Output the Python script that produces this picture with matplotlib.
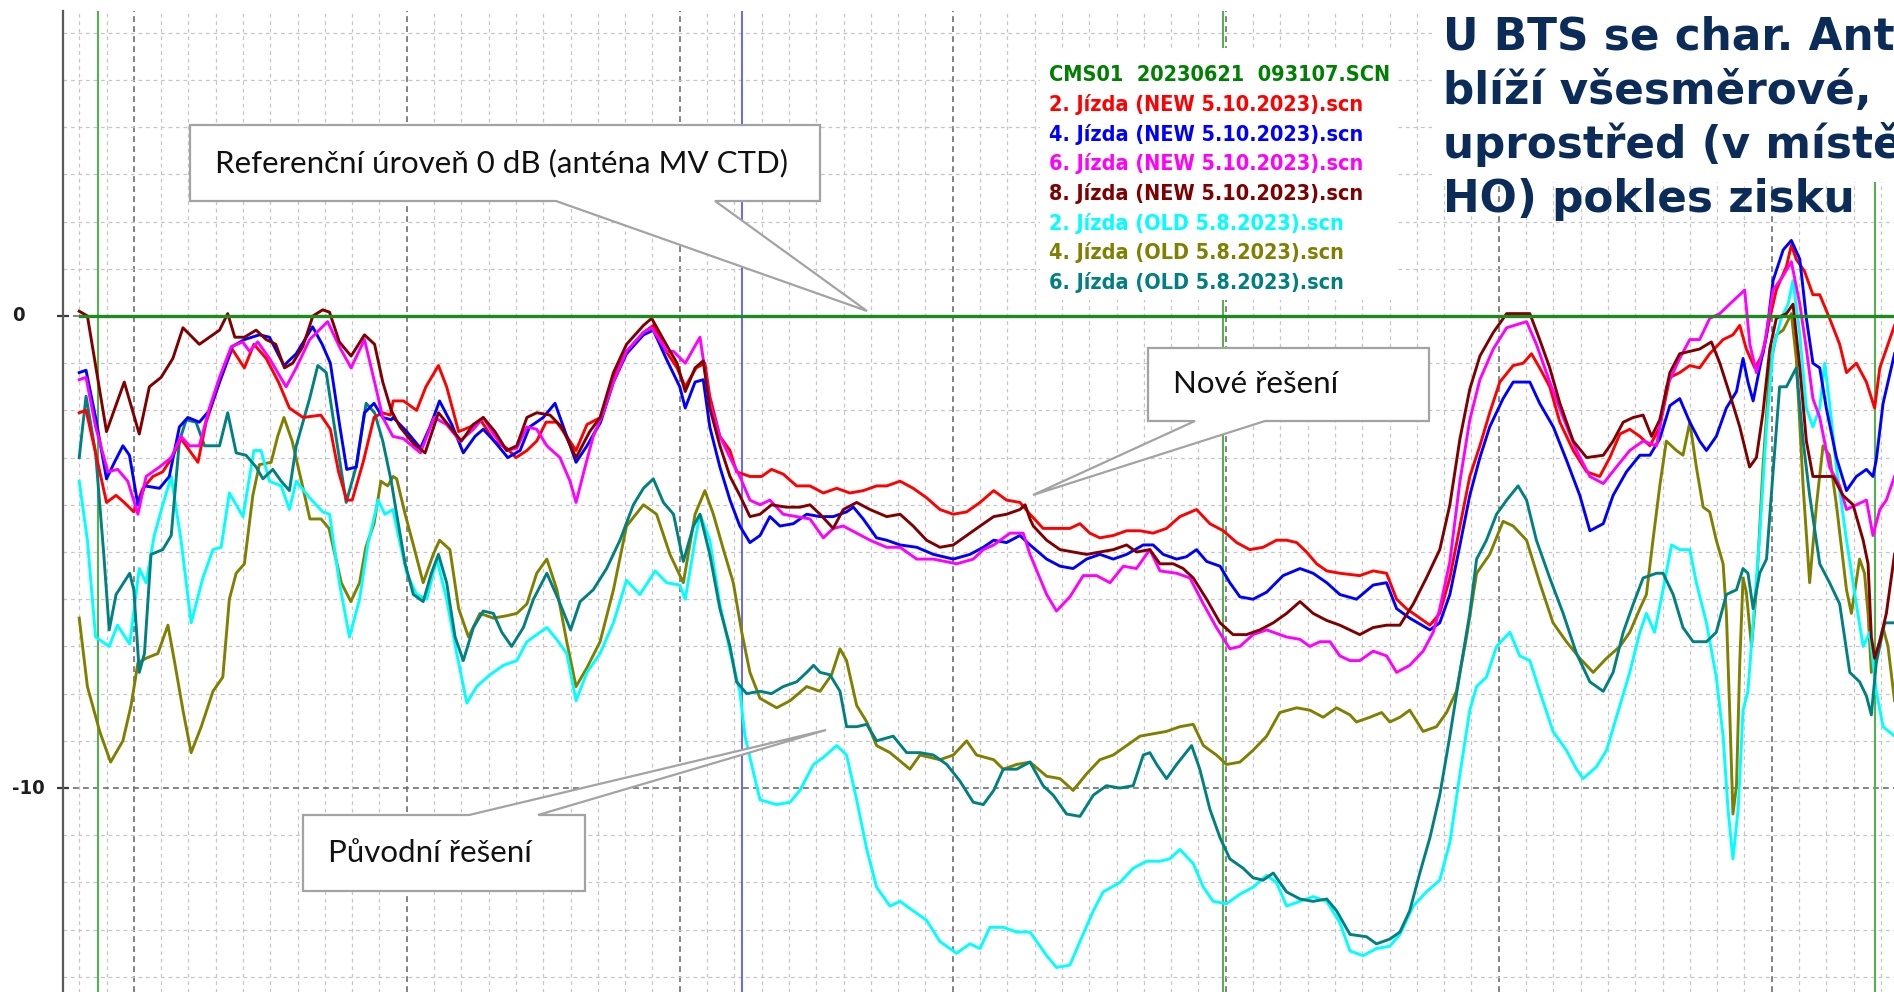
import matplotlib
matplotlib.use("Agg")
import matplotlib.pyplot as plt
from matplotlib.patches import Polygon, Rectangle
from matplotlib.ticker import MultipleLocator
from matplotlib.transforms import blended_transform_factory

# ---------------------------------------------------------------- data
# relative level [dB] versus position along the drive route (grid units)
cms_u = [-1.97, 64.5]
cms_db = [0.0, 0.0]

red_u = [-2, -1.75, -1.4, -1, -0.65, -0.35, 0, 0.33, 0.7, 1.06, 1.4, 1.73, 2.04, 2.35, 2.65, 3.14, 3.6, 4.05, 4.4,
         4.85, 5.3, 5.7, 6.2, 6.85, 7.2, 7.5, 7.8, 8.0, 8.4, 8.8, 9.1, 9.4, 9.5, 9.88, 10.36, 10.7, 11.16, 11.46, 11.9,
         12.32, 12.7, 13.2, 13.66, 14.0, 14.4, 14.76, 15.1, 15.49, 15.86, 16.2, 16.6, 17.1, 17.57, 18.05, 18.67, 19.03,
         19.5, 19.9, 20.2, 20.6, 20.92, 21.1, 21.47, 21.84, 22.08, 22.57, 23.0, 23.36, 23.79, 24.28, 24.77, 25.26,
         25.75, 26.23, 26.72, 27.21, 27.58, 28.07, 28.55, 29.04, 29.53, 30.02, 30.51, 31.0, 31.5, 31.97, 32.46, 32.83,
         33.31, 33.8, 34.29, 34.66, 35.02, 35.39, 35.88, 36.37, 36.86, 37.34, 37.83, 38.32, 38.93, 39.42, 39.91, 40.4,
         40.88, 41.37, 41.86, 42.23, 42.6, 42.96, 43.33, 43.7, 44.18, 44.91, 45.4, 45.89, 46.26, 46.62, 47.11, 47.48,
         47.84, 48.21, 48.58, 48.94, 49.31, 49.67, 50.04, 50.53, 50.9, 51.2, 51.5, 51.87, 52.24, 52.73, 53.22, 53.7,
         54.07, 54.44, 54.8, 55.17, 55.54, 55.9, 56.27, 56.63, 57.0, 57.36, 57.73, 58.22, 58.58, 58.83, 59.07, 59.38,
         59.68, 59.93, 60.17, 60.54, 60.72, 60.9, 61.2, 61.51, 61.76, 62.12, 62.49, 62.74, 63.1, 63.47, 63.77, 63.96,
         64.2, 64.5]
red_db = [-2.05, -2.0, -2.9, -3.95, -3.8, -3.95, -4.15, -3.65, -3.4, -3.3, -3.0, -2.6, -2.85, -3.1, -2.25, -1.4, -0.7,
          -1.1, -0.6, -0.9, -1.4, -1.95, -2.15, -2.1, -2.4, -3.3, -3.9, -3.9, -3.1, -2.15, -2.05, -2.1, -1.8, -1.8, -2.0,
          -1.5, -1.05, -1.5, -2.45, -2.35, -2.2, -2.65, -2.8, -3.0, -2.85, -2.65, -2.25, -2.25, -2.55, -2.85, -2.3,
          -2.15, -1.3, -0.75, -0.35, -0.2, -0.75, -1.1, -1.5, -1.1, -1.0, -1.7, -2.55, -2.85, -3.3, -3.4, -3.4, -3.25,
          -3.35, -3.6, -3.6, -3.75, -3.65, -3.75, -3.7, -3.6, -3.6, -3.5, -3.65, -3.85, -4.1, -4.2, -4.15, -3.95, -3.7,
          -3.9, -3.95, -4.2, -4.5, -4.5, -4.5, -4.4, -4.6, -4.7, -4.65, -4.55, -4.55, -4.6, -4.5, -4.25, -4.1, -4.4,
          -4.55, -4.8, -4.95, -4.9, -4.75, -4.75, -4.8, -5.0, -5.25, -5.4, -5.45, -5.5, -5.4, -5.45, -6.0, -6.2, -6.4,
          -6.55, -6.3, -5.55, -4.45, -3.4, -2.75, -2.05, -1.4, -1.05, -1.0, -0.8, -1.1, -1.5, -2.25, -2.85, -3.3, -3.4,
          -3.0, -2.5, -2.4, -2.55, -2.75, -2.35, -1.3, -1.2, -1.05, -1.1, -0.8, -0.5, -0.4, -0.2, -0.7, -1.1, -0.8,
          -0.05, 0.55, 1.05, 1.5, 1.2, 0.95, 0.45, 0.45, -0.05, -0.6, -1.2, -1.0, -1.4, -1.95, -1.1, -0.7, -0.2]

blue_u = [-2, -1.75, -1.4, -1.0, -0.71, -0.4, -0.16, 0.15, 0.4, 0.94, 1.3, 1.67, 1.98, 2.4, 2.77, 3.14, 3.6, 4.05, 4.6,
          4.97, 5.5, 5.95, 6.55, 6.9, 7.2, 7.55, 7.8, 8.15, 8.45, 8.8, 9.12, 9.43, 9.5, 10.0, 10.5, 10.85, 11.2, 11.65,
          12.07, 12.5, 12.8, 13.2, 13.7, 14.15, 14.5, 15.0, 15.43, 15.8, 16.2, 16.6, 17.1, 17.57, 18.05, 18.67, 19.03,
          19.5, 20.0, 20.2, 20.56, 20.86, 21.1, 21.47, 21.84, 22.2, 22.57, 22.94, 23.3, 23.67, 24.16, 24.65, 25.14,
          25.62, 26.11, 26.36, 26.72, 27.21, 27.58, 28.07, 28.68, 29.29, 30.02, 30.63, 31.12, 31.5, 31.97, 32.46, 32.83,
          33.44, 33.93, 34.41, 34.9, 35.39, 35.88, 36.37, 36.98, 37.34, 37.71, 38.2, 38.56, 38.93, 39.3, 39.79, 40.15,
          40.52, 41.0, 41.5, 42.1, 42.72, 43.2, 43.7, 44.18, 44.79, 45.4, 45.89, 46.26, 46.74, 47.48, 47.84, 48.21,
          48.58, 48.94, 49.31, 49.67, 50.16, 50.53, 51.14, 51.5, 52.0, 52.48, 52.97, 53.34, 53.83, 54.19, 54.68, 55.17,
          55.54, 55.9, 56.27, 56.63, 57.0, 57.36, 57.61, 57.97, 58.34, 58.71, 58.95, 59.13, 59.32, 59.56, 59.81, 60.05,
          60.42, 60.72, 61.03, 61.27, 61.51, 61.76, 62.0, 62.37, 62.74, 63.1, 63.47, 63.71, 63.83, 64.08, 64.5]
blue_db = [-1.2, -1.15, -2.15, -3.45, -3.1, -2.75, -2.95, -4.0, -3.6, -3.65, -3.4, -2.35, -2.15, -2.25, -2.0, -1.4,
           -0.65, -0.5, -0.4, -0.45, -1.05, -0.8, -0.23, -0.6, -1.0, -2.35, -3.25, -3.2, -2.05, -1.85, -2.15, -2.2,
           -2.15, -2.45, -2.8, -2.35, -1.8, -2.3, -2.9, -2.55, -2.4, -2.65, -3.0, -2.85, -2.35, -2.15, -1.85, -2.45,
           -3.1, -2.75, -2.25, -1.4, -0.8, -0.4, -0.3, -0.9, -1.5, -1.95, -1.4, -1.35, -2.35, -3.2, -3.9, -4.45, -4.8,
           -4.65, -4.25, -4.45, -4.4, -4.2, -4.25, -4.25, -4.15, -4.05, -4.3, -4.7, -4.75, -4.85, -4.9, -5.05, -5.15,
           -5.05, -4.9, -4.75, -4.8, -4.65, -4.85, -5.15, -5.3, -5.35, -5.15, -5.05, -5.15, -5.05, -4.85, -4.85, -5.05,
           -5.15, -5.1, -4.95, -5.2, -5.3, -5.65, -5.95, -6.0, -5.85, -5.5, -5.35, -5.45, -5.65, -5.9, -6.0, -5.7,
           -5.65, -6.2, -6.4, -6.65, -6.5, -5.9, -4.85, -3.8, -3.0, -2.35, -1.75, -1.4, -1.4, -1.85, -2.35, -3.05,
           -3.8, -4.55, -4.4, -3.8, -3.3, -2.95, -2.95, -2.6, -1.9, -1.75, -2.25, -2.65, -2.85, -2.55, -1.95, -1.6,
           -0.9, -1.4, -1.8, -1.1, -0.4, 0.75, 1.4, 1.6, 1.2, -0.05, -1.0, -1.1, -1.95, -3.0, -3.7, -3.4, -3.25, -3.4,
           -3.05, -1.85, -0.8]

magenta_u = [-2, -1.75, -1.4, -0.95, -0.59, -0.22, 0.15, 0.45, 0.94, 1.37, 1.73, 2.04, 2.4, 2.77, 3.14, 3.57, 3.99,
             4.24, 4.54, 4.97, 5.58, 5.95, 6.44, 7.1, 7.53, 7.96, 8.45, 8.82, 9.12, 9.49, 9.88, 10.5, 11.0, 11.46,
             11.95, 12.44, 12.8, 13.23, 13.66, 14.03, 14.4, 14.76, 15.13, 15.61, 15.98, 16.2, 16.53, 16.83, 17.2,
             17.57, 18.05, 18.67, 18.97, 19.52, 19.77, 20.2, 20.74, 21.1, 21.47, 21.84, 22.2, 22.57, 22.94, 23.3,
             23.79, 24.28, 24.77, 25.26, 25.62, 25.99, 26.48, 26.97, 27.58, 28.07, 28.68, 29.29, 30.14, 30.75, 31.12,
             31.5, 32.1, 32.58, 32.83, 33.44, 33.8, 34.29, 34.78, 35.27, 35.76, 36.25, 36.73, 37.22, 37.59, 38.2,
             38.69, 39.18, 39.66, 40.15, 40.52, 41.0, 41.5, 42.23, 42.72, 43.08, 43.45, 43.82, 44.18, 44.55, 44.91,
             45.4, 45.89, 46.26, 46.74, 47.23, 47.6, 47.84, 48.21, 48.58, 48.94, 49.31, 49.8, 50.29, 51.02, 51.38,
             51.87, 52.36, 52.85, 53.34, 53.83, 54.31, 54.8, 55.29, 55.78, 56.15, 56.63, 57.0, 57.36, 57.73, 58.1,
             58.46, 58.83, 59.01, 59.2, 59.44, 59.74, 60.05, 60.42, 60.72, 61.03, 61.27, 61.51, 61.76, 62.12, 62.49,
             62.74, 63.1, 63.47, 63.71, 63.96, 64.2, 64.5]
magenta_db = [-1.35, -1.3, -2.35, -3.3, -3.25, -3.5, -4.2, -3.4, -3.2, -3.0, -2.55, -2.75, -2.75, -1.95, -1.3,
              -0.65, -0.55, -0.75, -0.55, -0.9, -1.5, -1.1, -0.5, -0.12, -0.65, -1.1, -0.5, -1.4, -2.15, -2.55, -2.6,
              -2.9, -2.15, -2.3, -2.65, -2.4, -2.15, -2.55, -2.85, -2.8, -2.35, -2.4, -2.75, -3.0, -3.5, -3.95, -3.2,
              -2.55, -2.05, -1.4, -0.75, -0.35, -0.25, -0.75, -0.75, -1.0, -0.45, -1.85, -2.55, -3.0, -3.4, -3.9,
              -4.0, -3.9, -4.2, -4.25, -4.3, -4.7, -4.5, -4.45, -4.6, -4.75, -4.9, -4.9, -5.15, -5.15, -5.25, -5.15,
              -4.95, -4.85, -4.6, -4.6, -5.05, -5.9, -6.25, -5.95, -5.5, -5.5, -5.65, -5.3, -5.35, -4.95, -5.4, -5.45,
              -5.55, -6.1, -6.6, -7.05, -7.0, -6.75, -6.65, -6.8, -6.85, -7.0, -6.9, -6.9, -7.2, -7.3, -7.3, -7.1,
              -7.2, -7.55, -7.4, -7.1, -6.7, -6.2, -5.2, -3.5, -2.2, -1.35, -0.7, -0.25, -0.12, -0.6, -1.4, -2.15,
              -2.85, -3.4, -3.55, -3.2, -2.85, -2.65, -2.75, -1.5, -0.9, -0.5, -0.5, -0.05, 0.05, 0.25, 0.45, 0.55,
              -0.6, -1.2, -0.6, 0.55, 0.85, 1.15, 0.25, -0.7, -1.75, -2.15, -3.2, -3.6, -4.1, -4.0, -3.9, -4.65, -4.1,
              -3.9, -3.4]

brown_u = [-2, -1.7, -1.0, -0.35, 0.2, 0.57, 1.0, 1.43, 1.8, 2.4, 2.77, 3.14, 3.44, 3.7, 4.05, 4.48, 4.85, 5.2, 5.52,
           5.82, 6.19, 6.56, 6.92, 7.17, 7.53, 7.96, 8.45, 8.82, 9.12, 9.43, 9.75, 10.24, 10.67, 11.16, 11.58, 12.0,
           12.44, 12.8, 13.23, 13.66, 14.03, 14.4, 14.76, 15.25, 15.67, 16.2, 16.7, 17.08, 17.57, 18.05, 18.67, 18.97,
           19.5, 19.9, 20.2, 20.56, 20.86, 21.1, 21.47, 21.84, 22.2, 22.57, 22.94, 23.36, 23.9, 24.4, 24.77, 25.14,
           25.62, 25.99, 26.48, 26.97, 27.58, 28.07, 28.55, 29.04, 29.53, 30.02, 30.51, 31.0, 31.5, 31.97, 32.46,
           32.65, 32.83, 32.95, 33.44, 33.93, 34.41, 34.9, 35.39, 35.88, 36.37, 36.73, 37.22, 37.59, 38.08, 38.44,
           38.81, 39.3, 39.79, 40.27, 40.76, 41.25, 41.74, 42.23, 42.72, 43.2, 43.7, 44.18, 44.91, 45.4, 45.89, 46.38,
           46.87, 47.35, 47.84, 48.21, 48.58, 48.94, 49.31, 49.8, 50.29, 50.77, 51.14, 51.5, 51.87, 52.24, 52.73,
           53.22, 53.83, 54.19, 54.56, 54.93, 55.29, 55.6, 55.9, 56.27, 56.63, 57.0, 57.36, 57.79, 58.1, 58.46, 58.83,
           59.19, 59.44, 59.68, 59.93, 60.17, 60.54, 60.78, 61.03, 61.27, 61.51, 61.88, 62.25, 62.61, 62.98, 63.35,
           63.53, 63.65, 63.77, 63.96, 64.2, 64.5]
brown_db = [0.1, 0.0, -2.45, -1.4, -2.5, -1.5, -1.3, -0.9, -0.25, -0.6, -0.45, -0.3, 0.05, -0.45, -0.45, -0.3, -0.5,
            -0.6, -1.1, -1.0, -0.65, 0.0, 0.13, 0.08, -0.55, -0.85, -0.4, -0.6, -1.4, -2.0, -2.35, -2.7, -2.9, -2.05,
            -2.35, -2.65, -2.3, -2.15, -2.45, -2.85, -2.75, -2.15, -2.05, -2.1, -2.35, -3.0, -2.45, -2.15, -1.2, -0.6,
            -0.2, -0.05, -0.6, -1.0, -1.6, -1.1, -0.95, -1.95, -2.75, -3.4, -3.8, -4.25, -4.2, -4.0, -4.05, -4.05,
            -4.0, -4.2, -4.5, -4.1, -3.95, -4.1, -4.25, -4.2, -4.45, -4.75, -4.9, -4.85, -4.65, -4.45, -4.25, -4.2,
            -4.1, -4.0, -4.3, -4.45, -4.75, -4.95, -5.0, -5.05, -5.0, -4.95, -4.85, -5.0, -4.95, -5.25, -5.25, -5.35,
            -5.55, -6.0, -6.5, -6.75, -6.75, -6.65, -6.5, -6.3, -6.05, -6.3, -6.45, -6.55, -6.75, -6.6, -6.55, -6.55,
            -6.1, -5.55, -4.95, -4.0, -2.6, -1.55, -0.85, -0.35, 0.05, 0.05, 0.05, -0.5, -1.1, -1.85, -2.65, -3.0,
            -2.95, -2.65, -2.25, -2.15, -2.1, -2.55, -2.2, -1.2, -0.8, -0.75, -0.7, -0.55, -1.0, -1.65, -2.35, -3.2,
            -3.0, -2.05, -0.7, -0.05, 0.05, 0.25, -1.1, -2.65, -3.4, -3.4, -3.4, -3.8, -4.0, -4.75, -5.25, -6.8,
            -7.25, -6.9, -6.3, -5.05]

cyan_u = [-2, -1.7, -1.4, -0.9, -0.6, -0.15, 0.2, 0.45, 0.75, 1.06, 1.37, 1.73, 2.1, 2.53, 2.9, 3.2, 3.5, 4.0, 4.4,
          4.66, 4.97, 5.4, 5.7, 5.95, 6.44, 6.92, 7.17, 7.53, 7.9, 8.27, 8.57, 8.95, 9.2, 9.49, 9.69, 10.0, 10.36,
          10.73, 11.1, 11.46, 11.83, 12.2, 12.56, 13.05, 13.54, 14.03, 14.4, 14.76, 15.13, 15.49, 15.86, 16.2, 16.6,
          17.08, 17.57, 18.05, 18.54, 19.1, 19.52, 20.0, 20.2, 20.56, 20.74, 21.1, 21.47, 21.84, 22.2, 22.39, 22.63,
          22.94, 23.55, 24.04, 24.4, 24.9, 25.26, 25.75, 26.11, 26.48, 26.85, 27.21, 27.7, 28.07, 28.55, 29.04, 29.53,
          30.14, 30.63, 31.0, 31.36, 31.85, 32.34, 32.83, 33.44, 33.8, 34.29, 34.66, 35.15, 35.51, 36.12, 36.61, 37.1,
          37.59, 37.95, 38.32, 38.81, 39.18, 39.54, 40.03, 40.52, 41.0, 41.5, 41.86, 42.23, 42.72, 43.2, 43.7, 44.18,
          44.55, 45.03, 45.52, 46.01, 46.38, 46.87, 47.35, 47.84, 48.21, 48.58, 48.94, 49.19, 49.55, 49.92, 50.41,
          50.77, 51.14, 51.5, 51.99, 52.48, 52.85, 53.09, 53.58, 53.95, 54.44, 54.8, 55.17, 55.41, 55.71, 56.02,
          56.33, 56.63, 57.0, 57.24, 57.61, 57.97, 58.22, 58.4, 58.58, 58.77, 58.95, 59.13, 59.32, 59.56, 59.81,
          60.05, 60.35, 60.6, 60.78, 61.03, 61.27, 61.51, 61.76, 61.94, 62.12, 62.37, 62.74, 63.1, 63.35, 63.59,
          63.83, 64.08, 64.5]
cyan_db = [-3.5, -4.75, -6.8, -7.0, -6.55, -6.95, -5.35, -5.65, -4.65, -4.0, -3.4, -4.75, -6.5, -5.55, -4.95, -4.9,
           -3.75, -4.25, -2.85, -2.85, -3.5, -3.6, -4.1, -3.5, -3.85, -4.15, -4.2, -5.65, -6.8, -6.0, -4.85, -3.9,
           -4.2, -4.1, -4.65, -5.45, -5.9, -6.0, -5.15, -6.0, -7.15, -8.2, -7.85, -7.6, -7.4, -7.3, -6.9, -6.75, -6.6,
           -6.85, -7.15, -8.15, -7.55, -7.15, -6.5, -5.6, -5.9, -5.4, -5.65, -5.7, -6.0, -4.75, -4.2, -4.75, -6.1,
           -7.1, -7.95, -8.9, -9.5, -10.25, -10.35, -10.3, -10.05, -9.5, -9.35, -9.1, -9.3, -10.25, -11.3, -12.1,
           -12.5, -12.4, -12.6, -12.8, -13.25, -13.5, -13.3, -13.4, -12.95, -12.95, -13.05, -13.05, -13.55, -13.8,
           -13.75, -13.25, -12.6, -12.2, -12.0, -11.7, -11.55, -11.55, -11.5, -11.3, -11.6, -12.1, -12.4, -12.45,
           -12.25, -12.1, -11.85, -12.0, -12.5, -12.4, -12.3, -12.4, -12.85, -13.45, -13.55, -13.4, -13.35, -13.1,
           -12.5, -12.2, -11.95, -11.15, -9.7, -8.35, -7.85, -7.65, -7.0, -6.7, -7.2, -7.3, -7.95, -8.8, -9.2, -9.6,
           -9.8, -9.55, -9.2, -8.25, -7.55, -6.7, -6.3, -6.7, -5.8, -4.85, -4.95, -4.95, -5.65, -6.5, -7.65, -8.9,
           -10.45, -11.5, -10.45, -8.35, -7.95, -6.5, -4.65, -2.35, -0.7, -0.05, 0.25, 0.75, -0.4, -1.95, -2.35,
           -1.95, -1.0, -1.85, -3.2, -4.75, -6.1, -7.0, -6.7, -7.95, -8.7, -8.9]

olive_u = [-2, -1.7, -1.25, -0.85, -0.4, -0.1, 0.15, 0.45, 0.88, 1.25, 1.5, 1.8, 2.1, 2.47, 2.9, 3.26, 3.5, 3.75,
           4.05, 4.36, 4.6, 5.03, 5.27, 5.5, 5.8, 6.2, 6.45, 6.86, 7.15, 7.6, 7.95, 8.27, 8.5, 8.8, 9.05, 9.3, 9.5,
           9.63, 9.94, 10.24, 10.6, 10.97, 11.2, 11.58, 11.9, 12.26, 12.68, 13.17, 13.66, 14.03, 14.4, 14.76, 15.13,
           15.5, 15.86, 16.2, 16.6, 17.08, 17.57, 18.05, 18.67, 19.15, 19.64, 20.13, 20.56, 20.92, 21.23, 21.6,
           21.96, 22.27, 22.57, 22.94, 23.55, 24.04, 24.65, 25.14, 25.56, 25.87, 26.11, 26.48, 26.85, 27.21, 27.7,
           28.43, 28.8, 29.53, 30.02, 30.51, 30.87, 31.5, 31.85, 32.34, 32.83, 33.44, 33.93, 34.41, 34.9, 35.39,
           35.88, 36.37, 36.86, 37.34, 37.83, 38.32, 38.81, 39.18, 39.66, 40.03, 40.52, 41.0, 41.5, 41.98, 42.6,
           43.08, 43.57, 44.06, 44.55, 44.79, 45.28, 45.71, 46.01, 46.38, 46.74, 47.23, 47.72, 48.09, 48.45, 48.82,
           49.19, 49.67, 50.16, 50.53, 51.02, 51.5, 51.99, 52.48, 52.97, 53.46, 53.95, 54.44, 54.8, 55.17, 55.41,
           55.65, 55.9, 56.14, 56.51, 56.75, 57.0, 57.24, 57.49, 57.73, 57.97, 58.22, 58.34, 58.46, 58.58, 58.71,
           58.83, 58.95, 59.07, 59.26, 59.44, 59.68, 59.93, 60.17, 60.42, 60.72, 60.9, 61.15, 61.39, 61.64, 61.88,
           62.12, 62.37, 62.74, 62.92, 63.22, 63.4, 63.53, 63.65, 63.83, 64.08, 64.26, 64.5]
olive_db = [-6.4, -7.85, -8.8, -9.45, -9.0, -8.25, -7.35, -7.25, -7.15, -6.55, -7.35, -8.35, -9.25, -8.7, -7.95,
            -7.65, -6.0, -5.45, -5.25, -3.8, -3.15, -3.1, -2.55, -2.15, -2.65, -3.65, -4.3, -4.3, -4.5, -5.65, -6.05,
            -5.65, -4.9, -4.4, -3.5, -3.6, -3.4, -3.45, -4.2, -4.85, -5.65, -5.05, -4.75, -4.95, -6.2, -6.8, -6.3,
            -6.4, -6.35, -6.3, -6.1, -5.45, -5.15, -5.8, -6.9, -7.85, -7.45, -6.9, -5.8, -4.45, -4.0, -4.2, -5.05,
            -5.65, -4.2, -3.7, -4.2, -4.95, -5.65, -6.7, -7.55, -8.1, -8.3, -8.15, -7.85, -7.95, -7.6, -7.05, -7.3,
            -8.25, -8.6, -9.1, -9.25, -9.6, -9.3, -9.4, -9.3, -9.0, -9.3, -9.4, -9.6, -9.5, -9.45, -9.75, -9.8,
            -10.05, -9.7, -9.4, -9.3, -9.1, -8.9, -8.85, -8.8, -8.7, -8.65, -9.1, -9.3, -9.5, -9.45, -9.2, -8.9,
            -8.4, -8.3, -8.35, -8.5, -8.3, -8.45, -8.6, -8.5, -8.4, -8.6, -8.5, -8.35, -8.8, -8.7, -8.4, -7.95, -6.8,
            -5.45, -5.05, -4.35, -4.45, -4.75, -5.65, -6.5, -6.9, -7.25, -7.55, -7.25, -7.0, -6.7, -6.2, -5.9, -4.75,
            -3.6, -2.65, -2.85, -2.95, -2.25, -3.2, -4.05, -4.15, -4.75, -5.25, -6.3, -8.35, -10.55, -9.95, -7.35,
            -5.55, -5.85, -7.0, -5.8, -3.2, -1.1, -0.4, -0.3, 0.05, -0.9, -3.6, -5.65, -4.0, -2.75, -2.95, -4.0, -5.8,
            -6.3, -5.15, -5.45, -6.3, -7.55, -7.15, -6.6, -7.0, -8.15]

teal_u = [-2, -1.75, -1.4, -1.1, -0.9, -0.65, -0.15, 0, 0.2, 0.39, 0.63, 1.06, 1.37, 1.67, 1.92, 2.28, 2.59, 3.14,
          3.44, 3.75, 4.11, 4.48, 4.73, 5.09, 5.4, 5.7, 5.95, 6.44, 6.74, 7.05, 7.35, 7.78, 8.14, 8.51, 8.82, 9.12,
          9.43, 9.63, 9.94, 10.24, 10.6, 10.9, 11.16, 11.46, 11.77, 12.07, 12.44, 12.8, 13.17, 13.48, 13.84, 14.27,
          14.64, 15.13, 15.55, 16.0, 16.35, 16.83, 17.32, 17.81, 18.3, 18.67, 19.03, 19.4, 19.77, 20.13, 20.5, 20.74,
          21.1, 21.47, 21.84, 22.08, 22.45, 22.94, 23.36, 23.79, 24.28, 24.65, 24.9, 25.14, 25.5, 25.87, 26.11,
          26.48, 26.85, 27.21, 27.82, 28.31, 28.8, 29.29, 29.78, 30.26, 30.75, 31.12, 31.5, 31.85, 32.34, 32.83,
          33.31, 33.68, 34.17, 34.66, 35.15, 35.63, 36.12, 36.61, 36.98, 37.22, 37.47, 37.83, 38.2, 38.75, 39.05,
          39.42, 39.79, 40.15, 40.64, 41.0, 41.37, 41.74, 42.23, 42.72, 43.2, 43.7, 44.06, 44.55, 45.16, 45.52,
          46.01, 46.38, 46.74, 47.11, 47.48, 47.84, 48.21, 48.58, 48.94, 49.19, 49.55, 49.92, 50.29, 50.71, 51.02,
          51.38, 51.87, 52.36, 52.85, 53.34, 53.83, 54.19, 54.56, 54.93, 55.29, 55.78, 56.02, 56.39, 56.75, 57.12,
          57.61, 57.97, 58.34, 58.71, 58.95, 59.13, 59.32, 59.56, 59.81, 60.05, 60.29, 60.54, 60.9, 61.15, 61.39,
          61.76, 62.12, 62.49, 62.86, 63.22, 63.47, 63.65, 63.83, 64.14, 64.5]
teal_db = [-3.0, -1.7, -2.9, -5.05, -6.65, -5.9, -5.45, -5.8, -7.55, -7.15, -5.05, -4.95, -4.65, -2.65, -2.2, -2.25,
           -2.75, -2.75, -2.05, -2.9, -2.95, -3.2, -3.45, -3.25, -3.5, -3.7, -2.75, -1.75, -1.05, -1.2, -2.35, -3.95,
           -3.2, -1.85, -2.05, -2.65, -3.5, -4.2, -5.25, -5.9, -6.05, -5.45, -5.05, -5.65, -6.8, -7.3, -6.6, -6.25,
           -6.3, -6.7, -7.0, -6.6, -6.0, -5.45, -6.0, -6.65, -6.05, -5.8, -5.35, -4.75, -4.0, -3.65, -3.45, -3.95,
           -4.2, -5.2, -4.45, -4.2, -5.05, -6.2, -7.0, -7.75, -8.0, -7.95, -8.0, -7.85, -7.75, -7.55, -7.4, -7.55,
           -7.6, -7.95, -8.7, -8.7, -8.65, -9.0, -8.9, -9.25, -9.25, -9.3, -9.5, -9.85, -10.3, -10.35, -10.05, -9.6,
           -9.6, -9.45, -9.95, -10.15, -10.55, -10.6, -10.15, -9.95, -10.0, -9.95, -9.3, -9.25, -9.5, -9.8, -9.5,
           -9.1, -9.6, -10.45, -11.05, -11.5, -11.7, -11.9, -11.95, -11.8, -12.2, -12.35, -12.4, -12.35, -12.6,
           -13.1, -13.15, -13.3, -13.2, -13.05, -12.6, -11.8, -11.05, -10.15, -8.9, -7.55, -6.3, -5.15, -4.75, -4.2,
           -3.9, -3.6, -3.9, -4.75, -5.55, -6.3, -7.15, -7.75, -7.95, -7.55, -6.7, -6.1, -5.55, -5.45, -5.45, -5.9,
           -6.6, -6.9, -6.9, -6.7, -5.9, -5.8, -5.35, -5.45, -6.2, -5.45, -5.15, -3.3, -1.5, -1.5, -1.1, -2.65,
           -3.8, -5.25, -5.65, -6.1, -7.55, -7.75, -8.05, -8.45, -7.35, -6.5, -6.5]

legend_labels = ["CMS01  20230621  093107.SCN",
                 "2. Jízda (NEW 5.10.2023).scn",
                 "4. Jízda (NEW 5.10.2023).scn",
                 "6. Jízda (NEW 5.10.2023).scn",
                 "8. Jízda (NEW 5.10.2023).scn",
                 "2. Jízda (OLD 5.8.2023).scn",
                 "4. Jízda (OLD 5.8.2023).scn",
                 "6. Jízda (OLD 5.8.2023).scn"]
legend_colors = ["#008000", "#ff0000", "#0000ff", "#ff00ff", "#800000", "#00ffff", "#808000", "#008080"]

marker_u = [-1.31, 39.9, 63.8]   # green position markers
cursor_u = 22.29                  # blue cursor

y_ticks = [0, -10]
y_tick_labels = ["0", "-10"]

title_lines = ["U BTS se char. Ant", "blíží všesměrové,", "uprostřed (v místě", "HO) pokles zisku"]
callout_ref = "Referenční úroveň 0 dB (anténa MV CTD)"
callout_new = "Nové řešení"
callout_old = "Původní řešení"

# ---------------------------------------------------------------- figure
W, H = 1894, 992
fig = plt.figure(figsize=(W / 100, H / 100), dpi=100)
fig.patch.set_facecolor("white")


def fx(x):
    return x / W


def fy(y):
    return 1 - y / H


ax = fig.add_axes([fx(63), 0, 1 - fx(63), 1 - 11 / H])
ax.set_xlim(-2.594, 64.48)
ax.set_ylim(-14.32, 6.46)

for side in ("top", "right", "bottom"):
    ax.spines[side].set_visible(False)
ax.spines["left"].set_color("#5a5a5a")
ax.spines["left"].set_linewidth(1.6)

ax.xaxis.set_major_locator(MultipleLocator(10))
ax.xaxis.set_minor_locator(MultipleLocator(1))
ax.yaxis.set_major_locator(MultipleLocator(10))
ax.yaxis.set_minor_locator(MultipleLocator(1))
ax.grid(which="minor", color="#c6c6c6", linestyle=(0, (3, 3)), linewidth=0.9)
ax.grid(which="major", color="#6e6e6e", linestyle=(0, (3.5, 2.5)), linewidth=1.2)
ax.set_axisbelow(True)
ax.tick_params(axis="x", which="both", length=0, labelbottom=False)
ax.tick_params(axis="y", which="minor", length=0)
ax.tick_params(axis="y", which="major", direction="inout", length=9, width=1.6, color="#3a3a3a",
               labelleft=False)
ax.set_yticks(y_ticks)

narrow = dict(family="DejaVu Sans", fontstretch="condensed")

ytrans = blended_transform_factory(fig.transFigure, ax.transData)
for val, lab in zip(y_ticks, y_tick_labels):
    fig.text(fx(12), val, lab, transform=ytrans, ha="left", va="center", fontsize=14.5, fontweight="bold",
             color="#1e1e1e", **narrow)

# position markers
for mu in marker_u:
    ax.axvline(mu, color="#55b050", linewidth=1.5, zorder=2)
ax.axvline(cursor_u, color="#3c3cff", linewidth=1.1, zorder=2)

lw = 2.1
ax.plot(olive_u, olive_db, color="#808000", linewidth=lw, zorder=3)
ax.plot(cyan_u, cyan_db, color="#00ffff", linewidth=lw, zorder=3)
ax.plot(teal_u, teal_db, color="#008080", linewidth=lw, zorder=3)
ax.plot(red_u, red_db, color="#ff0000", linewidth=lw, zorder=3)
ax.plot(blue_u, blue_db, color="#0000ff", linewidth=lw, zorder=3)
ax.plot(magenta_u, magenta_db, color="#ff00ff", linewidth=lw, zorder=3)
ax.plot(brown_u, brown_db, color="#800000", linewidth=lw, zorder=3)
ax.plot(cms_u, cms_db, color="#1f8a1f", linewidth=2.4, zorder=4)

# ---------------------------------------------------------------- legend block
fig.add_artist(Rectangle((fx(1040), fy(300)), fx(1395 - 1040), (300 - 48) / H, transform=fig.transFigure,
                         facecolor="white", edgecolor="none", zorder=5))
for i, (lab, col) in enumerate(zip(legend_labels, legend_colors)):
    fig.text(fx(1049), fy(75 + i * 29.6), lab, color=col, fontsize=15.5, fontweight="bold", ha="left",
             va="center", zorder=6, **narrow)

# ---------------------------------------------------------------- headline
fig.add_artist(Rectangle((fx(1432), fy(182)), fx(W - 1432), 182 / H, transform=fig.transFigure,
                         facecolor="white", edgecolor="none", zorder=5))
for i, line in enumerate(title_lines):
    fig.text(fx(1443), fy(50 + i * 54), line, color="#0b2b59", fontsize=31.5, fontweight="bold",
             family="DejaVu Sans", ha="left", va="baseline", zorder=6)


# ---------------------------------------------------------------- callouts
def callout(points, text, text_x, text_y):
    poly = Polygon([(fx(x), fy(y)) for x, y in points], closed=True, transform=fig.transFigure,
                   facecolor="white", edgecolor="#a3a3a3", linewidth=1.6, zorder=7)
    fig.add_artist(poly)
    fig.text(fx(text_x), fy(text_y), text, fontsize=22.5, family="Lato", color="#111111",
             ha="left", va="center", zorder=8)


callout([(190, 125), (820, 125), (820, 201), (715, 201), (867, 311), (556, 201), (190, 201)],
        callout_ref, 215, 163)
callout([(1148, 348), (1429, 348), (1429, 421), (1265, 421), (1033, 495), (1195, 421), (1148, 421)],
        callout_new, 1173, 384)
callout([(303, 815), (469, 815), (826, 730), (538, 815), (585, 815), (585, 891), (303, 891)],
        callout_old, 328, 853)

fig.savefig("out.png", dpi=100, facecolor="white")
